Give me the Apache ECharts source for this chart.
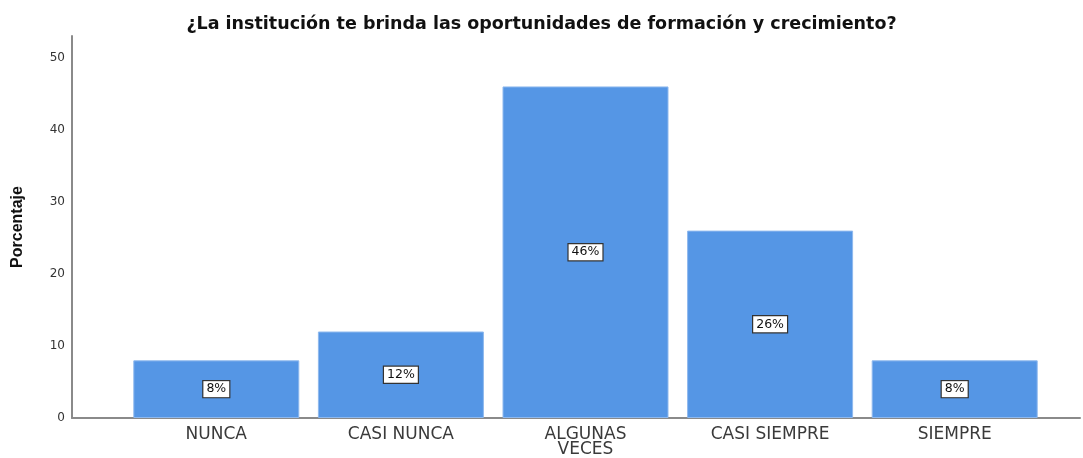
<!DOCTYPE html>
<html>
<head>
<meta charset="utf-8">
<script src="https://cdn.jsdelivr.net/npm/echarts@6/dist/echarts.min.js"></script>
<style>
  html, body { margin: 0; padding: 0; background: #fff; }
  #chart { width: 1083px; height: 458px; }
</style>
</head>
<body>
<div id="chart"></div>
<script>
var titleText = "¿La institución te brinda las oportunidades de formación y crecimiento?";
var categories = ["NUNCA", "CASI NUNCA", "ALGUNAS\nVECES", "CASI SIEMPRE", "SIEMPRE"];
var percents = [8, 12, 46, 26, 8];
var yTicks = [0, 10, 20, 30, 40, 50];

var wide = "'DejaVu Sans', Verdana, sans-serif";
var arial = "Arial, 'Liberation Sans', sans-serif";
var chart = echarts.init(document.getElementById("chart"));

var option = {
  animation: false,
  title: {
    text: titleText,
    left: "center",
    top: 10,
    textStyle: { fontFamily: wide, fontSize: 17.5, fontWeight: "bold", color: "#111" }
  },
  grid: [
    { left: 72, right: 3, top: 36, bottom: 40 },
    { left: 124, right: 36, top: 36, bottom: 40 }
  ],
  xAxis: [
    {
      gridIndex: 0,
      type: "category",
      data: [""],
      axisLine: { lineStyle: { color: "#8a8a8a", width: 2 } },
      axisTick: { show: false },
      axisLabel: { show: false }
    },
    {
      gridIndex: 1,
      type: "category",
      data: categories,
      axisLine: { show: false },
      axisTick: { show: false },
      axisLabel: {
        fontFamily: wide, fontSize: 17, color: "#3a3a3a",
        margin: 9, lineHeight: 15, interval: 0
      }
    }
  ],
  yAxis: [
    {
      gridIndex: 0,
      type: "value",
      min: 0,
      max: 53,
      interval: 10,
      name: "Porcentaje",
      nameLocation: "middle",
      nameGap: 46,
      nameTextStyle: { fontFamily: arial, fontSize: 16, fontWeight: "bold", color: "#111" },
      axisLine: { show: true, lineStyle: { color: "#8a8a8a", width: 2 } },
      axisTick: { show: false },
      splitLine: { show: false },
      axisLabel: {
        fontFamily: wide, fontSize: 12, color: "#333", margin: 7,
        showMaxLabel: false,
        formatter: function (v) { return yTicks.indexOf(v) >= 0 ? String(v) : ""; }
      }
    },
    {
      gridIndex: 1,
      type: "value",
      min: 0,
      max: 53,
      show: false
    }
  ],
  series: [
    {
      type: "bar",
      xAxisIndex: 1,
      yAxisIndex: 1,
      data: percents,
      barWidth: 166,
      itemStyle: { color: "#5596e5", borderColor: "#8fb9ee", borderWidth: 1 },
      label: {
        show: true,
        position: "inside",
        formatter: "{c}%",
        fontFamily: wide,
        fontSize: 12.5,
        color: "#111",
        backgroundColor: "#fff",
        borderColor: "#333",
        borderWidth: 1.2,
        padding: [2, 3, 1, 3]
      }
    }
  ]
};

chart.setOption(option);
</script>
</body>
</html>
